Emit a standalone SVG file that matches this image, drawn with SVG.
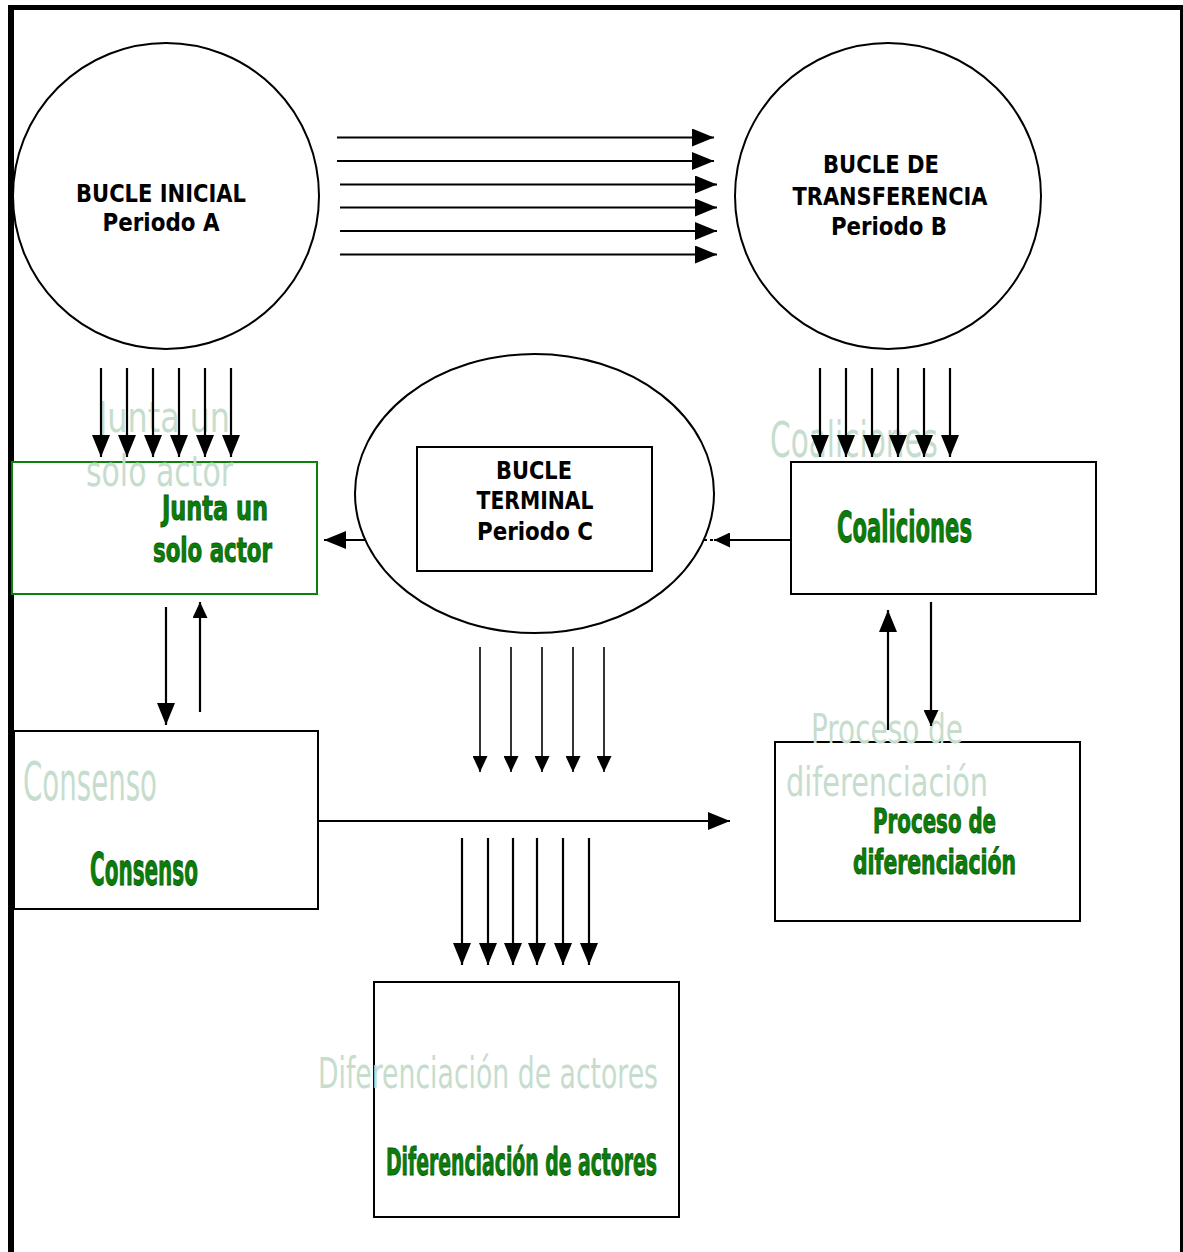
<svg xmlns="http://www.w3.org/2000/svg" width="1183" height="1252" viewBox="0 0 1183 1252">
<style>
.shape{fill:#fff;stroke:#000;stroke-width:2}
.gbox{fill:#fff;stroke:#0a820a;stroke-width:2}
.lbl{font-family:"DejaVu Sans Condensed","DejaVu Sans",sans-serif;font-weight:bold;font-size:25px;fill:#000;text-anchor:middle}
.ghost{font-family:"DejaVu Sans Condensed","DejaVu Sans",sans-serif;font-weight:normal;fill:#c6ddcd}
.green{font-family:"DejaVu Sans Condensed","DejaVu Sans",sans-serif;font-weight:bold;fill:#0a7d0a;stroke:#0a5a0a;stroke-width:0.9}
.arr{stroke:#000;stroke-width:2.2;fill:none}
.thin{stroke:#000;stroke-width:1.6;fill:none}
</style>
<defs>
<marker id="big" markerUnits="userSpaceOnUse" viewBox="0 0 22 18" markerWidth="22" markerHeight="18" refX="22" refY="9" orient="auto">
<path d="M0,0 L22,9 L0,18 Z" fill="#000"/>
</marker>
<marker id="small" markerUnits="userSpaceOnUse" viewBox="0 0 16 15" markerWidth="16" markerHeight="15" refX="16" refY="7.5" orient="auto">
<path d="M0,0 L16,7.5 L0,15 Z" fill="#000"/>
</marker>
</defs>
<rect x="0" y="0" width="1183" height="1252" fill="#fff"/>
<g id="frame" fill="none" stroke="#000">
<line x1="8" y1="7.5" x2="1183" y2="7.5" stroke-width="5"/>
<line x1="11" y1="5" x2="11" y2="1252" stroke-width="6"/>
<line x1="1181.5" y1="5" x2="1181.5" y2="1252" stroke-width="3"/>
</g>
<g id="bucle-inicial">
<circle class="shape" cx="166" cy="196" r="153"/>
<text class="lbl" x="161" y="202" textLength="170" lengthAdjust="spacingAndGlyphs">BUCLE INICIAL</text>
<text class="lbl" x="161" y="231" textLength="117" lengthAdjust="spacingAndGlyphs">Periodo A</text>
</g>
<g id="bucle-transferencia">
<circle class="shape" cx="888" cy="196" r="153"/>
<text class="lbl" x="881" y="173" textLength="116" lengthAdjust="spacingAndGlyphs">BUCLE DE</text>
<text class="lbl" x="890" y="205" textLength="195" lengthAdjust="spacingAndGlyphs">TRANSFERENCIA</text>
<text class="lbl" x="889" y="235" textLength="116" lengthAdjust="spacingAndGlyphs">Periodo B</text>
</g>
<g id="bucle-terminal">
<ellipse class="shape" cx="534.5" cy="493.5" rx="179.5" ry="139.5"/>
<rect class="shape" x="417" y="447" width="235" height="124"/>
<text class="lbl" x="534" y="479" textLength="76" lengthAdjust="spacingAndGlyphs">BUCLE</text>
<text class="lbl" x="535" y="509" textLength="117" lengthAdjust="spacingAndGlyphs">TERMINAL</text>
<text class="lbl" x="535" y="540" textLength="116" lengthAdjust="spacingAndGlyphs">Periodo C</text>
</g>
<g id="junta">
<rect class="gbox" x="12" y="462" width="305" height="132"/>
<text class="ghost" x="98" y="432" font-size="42" textLength="132" lengthAdjust="spacingAndGlyphs">Junta un</text>
<text class="ghost" x="86" y="486" font-size="42" textLength="147" lengthAdjust="spacingAndGlyphs">solo actor</text>
<text class="green" x="162" y="520" font-size="34" textLength="106" lengthAdjust="spacingAndGlyphs">Junta un</text>
<text class="green" x="153" y="562" font-size="34" textLength="119" lengthAdjust="spacingAndGlyphs">solo actor</text>
</g>
<g id="coaliciones">
<rect class="shape" x="791" y="462" width="305" height="132"/>
<text class="ghost" x="770" y="457" font-size="50" textLength="168" lengthAdjust="spacingAndGlyphs">Coaliciones</text>
<text class="green" x="837" y="542" font-size="42" textLength="135" lengthAdjust="spacingAndGlyphs">Coaliciones</text>
</g>
<g id="consenso">
<rect class="shape" x="14" y="731" width="304" height="178"/>
<text class="ghost" x="23" y="800" font-size="54" textLength="134" lengthAdjust="spacingAndGlyphs">Consenso</text>
<text class="green" x="90" y="885" font-size="45" textLength="108" lengthAdjust="spacingAndGlyphs">Consenso</text>
</g>
<g id="proceso">
<rect class="shape" x="775" y="742" width="305" height="179"/>
<text class="ghost" x="811" y="743" font-size="40" textLength="152" lengthAdjust="spacingAndGlyphs">Proceso de</text>
<text class="ghost" x="786" y="796" font-size="40" textLength="202" lengthAdjust="spacingAndGlyphs">diferenciación</text>
<text class="green" x="873" y="833" font-size="34" textLength="123" lengthAdjust="spacingAndGlyphs">Proceso de</text>
<text class="green" x="853" y="874" font-size="34" textLength="163" lengthAdjust="spacingAndGlyphs">diferenciación</text>
</g>
<g id="diferenciacion">
<rect class="shape" x="374" y="982" width="305" height="235"/>
<text class="ghost" x="318" y="1088" font-size="42" textLength="340" lengthAdjust="spacingAndGlyphs">Diferenciación de actores</text>
<text class="green" x="386" y="1175" font-size="37" textLength="271" lengthAdjust="spacingAndGlyphs">Diferenciación de actores</text>
</g>
<g id="connectors">
<line class="arr" x1="337" y1="137.5" x2="714" y2="137.5" marker-end="url(#big)"/>
<line class="arr" x1="337" y1="161" x2="714" y2="161" marker-end="url(#big)"/>
<line class="arr" x1="340" y1="184.5" x2="717" y2="184.5" marker-end="url(#big)"/>
<line class="arr" x1="340" y1="207.5" x2="717" y2="207.5" marker-end="url(#big)"/>
<line class="arr" x1="340" y1="231" x2="717" y2="231" marker-end="url(#big)"/>
<line class="arr" x1="340" y1="254.5" x2="717" y2="254.5" marker-end="url(#big)"/>
<line class="arr" x1="101" y1="368" x2="101" y2="457" marker-end="url(#big)"/>
<line class="arr" x1="127" y1="368" x2="127" y2="457" marker-end="url(#big)"/>
<line class="arr" x1="153" y1="368" x2="153" y2="457" marker-end="url(#big)"/>
<line class="arr" x1="179" y1="368" x2="179" y2="457" marker-end="url(#big)"/>
<line class="arr" x1="205" y1="368" x2="205" y2="457" marker-end="url(#big)"/>
<line class="arr" x1="231" y1="368" x2="231" y2="457" marker-end="url(#big)"/>
<line class="arr" x1="820" y1="368" x2="820" y2="457" marker-end="url(#big)"/>
<line class="arr" x1="846" y1="368" x2="846" y2="457" marker-end="url(#big)"/>
<line class="arr" x1="872" y1="368" x2="872" y2="457" marker-end="url(#big)"/>
<line class="arr" x1="898" y1="368" x2="898" y2="457" marker-end="url(#big)"/>
<line class="arr" x1="924" y1="368" x2="924" y2="457" marker-end="url(#big)"/>
<line class="arr" x1="950" y1="368" x2="950" y2="457" marker-end="url(#big)"/>
<line class="arr" x1="365" y1="540" x2="324" y2="540" marker-end="url(#big)"/>
<line class="arr" x1="790" y1="540" x2="714" y2="540" marker-end="url(#small)"/>
<line class="arr" x1="703" y1="540" x2="713" y2="540" stroke-dasharray="4 3"/>
<line class="arr" x1="166" y1="607" x2="166" y2="725" marker-end="url(#big)"/>
<line class="arr" x1="200" y1="712" x2="200" y2="602" marker-end="url(#small)"/>
<line class="arr" x1="888" y1="730" x2="888" y2="610" marker-end="url(#big)"/>
<line class="arr" x1="931" y1="602" x2="931" y2="726" marker-end="url(#small)"/>
<line class="thin" x1="480" y1="647" x2="480" y2="772" marker-end="url(#small)"/>
<line class="thin" x1="511" y1="647" x2="511" y2="772" marker-end="url(#small)"/>
<line class="thin" x1="542" y1="647" x2="542" y2="772" marker-end="url(#small)"/>
<line class="thin" x1="573" y1="647" x2="573" y2="772" marker-end="url(#small)"/>
<line class="thin" x1="604" y1="647" x2="604" y2="772" marker-end="url(#small)"/>
<line class="arr" x1="318" y1="821" x2="730" y2="821" marker-end="url(#big)"/>
<line class="arr" x1="462" y1="838" x2="462" y2="965" marker-end="url(#big)"/>
<line class="arr" x1="488" y1="838" x2="488" y2="965" marker-end="url(#big)"/>
<line class="arr" x1="513" y1="838" x2="513" y2="965" marker-end="url(#big)"/>
<line class="arr" x1="537" y1="838" x2="537" y2="965" marker-end="url(#big)"/>
<line class="arr" x1="563" y1="838" x2="563" y2="965" marker-end="url(#big)"/>
<line class="arr" x1="589" y1="838" x2="589" y2="965" marker-end="url(#big)"/>
</g>
</svg>
